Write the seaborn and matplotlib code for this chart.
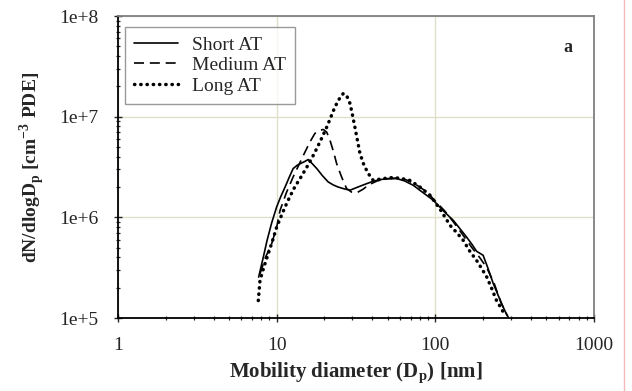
import numpy as np
import pandas as pd
import matplotlib
matplotlib.use("Agg")
import matplotlib.pyplot as plt
import matplotlib.ticker as mticker
from matplotlib.lines import Line2D
import seaborn as sns

# Размер частиц [nm] и концентрация dN/dlogDp для трёх режимов
short_d = [7.7, 8.2, 8.7, 9.3, 10.0, 10.6, 11.3, 12.0, 12.7, 13.5, 14.4, 15.1, 15.8,
           16.8, 17.9, 19.4, 21.1, 22.7, 24.4, 26.6, 29.0, 32.5, 36.9, 40.5, 44.8,
           50.5, 57.0, 64.0, 72.6, 84.0, 97.0, 113.0, 130.0, 143.0, 157.0, 170.0,
           182.0, 200.0, 215.0, 232.0, 250.0, 268.0, 280.0, 288.0]
short_n = [2.55e5, 3.9e5, 5.9e5, 8.8e5, 1.27e6, 1.6e6, 2.0e6, 2.5e6, 3.05e6, 3.3e6,
           3.47e6, 3.6e6, 3.75e6, 3.4e6, 3.05e6, 2.6e6, 2.25e6, 2.1e6, 2.0e6, 1.92e6,
           1.86e6, 2.0e6, 2.16e6, 2.28e6, 2.37e6, 2.42e6, 2.43e6, 2.3e6, 2.08e6,
           1.75e6, 1.48e6, 1.15e6, 9.3e5, 7.7e5, 6.4e5, 5.4e5, 4.6e5, 4.2e5, 3.1e5,
           2.19e5, 1.65e5, 1.28e5, 1.1e5, 1.02e5]

medium_d = [7.85, 8.5, 9.3, 10.0, 10.5, 11.5, 12.7, 13.9, 15.1, 16.2, 17.4, 18.5,
            19.7, 20.7, 21.7, 22.8, 23.9, 25.7, 27.6, 29.7, 31.9, 35.0, 38.0, 43.0,
            50.0, 57.0, 66.0, 76.0, 88.0, 100.0, 115.0, 130.0, 150.0, 170.0, 190.0,
            210.0, 235.0, 260.0, 285.0]
medium_n = [2.75e5, 4.0e5, 5.47e5, 8.0e5, 1.17e6, 1.75e6, 2.52e6, 3.4e6, 4.47e6,
            5.6e6, 6.8e6, 7.3e6, 7.46e6, 7.0e6, 5.8e6, 4.5e6, 3.4e6, 2.5e6, 1.93e6,
            1.78e6, 1.75e6, 1.9e6, 2.1e6, 2.3e6, 2.42e6, 2.45e6, 2.35e6, 2.1e6,
            1.8e6, 1.45e6, 1.15e6, 9.0e5, 6.6e5, 5.0e5, 4.0e5, 3.2e5, 2.2e5, 1.4e5,
            1.05e5]

long_d = [7.66, 7.85, 8.3, 8.85, 9.4, 10.0, 10.6, 11.3, 12.1, 13.0, 14.2, 15.5,
          16.7, 17.9, 19.3, 20.7, 22.0, 23.3, 24.8, 26.3, 27.6, 29.0, 30.0, 31.1,
          33.5, 35.5, 37.8, 40.6, 45.0, 51.8, 60.0, 69.0, 80.0, 92.5, 108.0, 124.0,
          137.0, 150.0, 165.0, 182.0, 196.0, 211.0, 227.0, 243.0, 260.0, 275.0]
long_n = [1.49e5, 2.36e5, 3.2e5, 4.35e5, 5.8e5, 8.0e5, 1.0e6, 1.27e6, 1.6e6, 2.0e6,
          2.5e6, 3.16e6, 3.9e6, 4.83e6, 6.2e6, 7.9e6, 1.0e7, 1.25e7, 1.5e7, 1.7e7,
          1.62e7, 1.35e7, 1.05e7, 7.9e6, 4.3e6, 3.3e6, 2.72e6, 2.33e6, 2.4e6,
          2.48e6, 2.45e6, 2.33e6, 2.0e6, 1.66e6, 1.18e6, 8.3e5, 7.0e5, 5.9e5,
          4.6e5, 3.73e5, 3.1e5, 2.55e5, 1.95e5, 1.49e5, 1.25e5, 1.06e5]

labels = ["Short AT", "Medium AT", "Long AT"]
x_ticks = [1, 10, 100, 1000]
y_ticks = [1e5, 1e6, 1e7, 1e8]

sns.set_style("white")
plt.rcParams['font.family'] = ['Liberation Serif', 'DejaVu Serif']
plt.rcParams['mathtext.fontset'] = 'custom'
plt.rcParams['mathtext.rm'] = 'Liberation Serif'
plt.rcParams['mathtext.bf'] = 'Liberation Serif:bold'

fig = plt.figure(figsize=(6.32, 3.91), dpi=100)
ax = fig.add_axes([118 / 632, 1 - 318 / 391, 476 / 632, 302 / 391])

series = [(short_d, short_n, dict(linestyle='-', linewidth=1.2)),
          (medium_d, medium_n, dict(linestyle=(0, (6, 3.5)), linewidth=1.2)),
          (long_d, long_n, dict(linestyle=(0, (0.1, 1.7)), linewidth=2.5,
                                dash_capstyle='round'))]
for (d, n, st), lab in zip(series, labels):
    df = pd.DataFrame({'d': d, 'n': n})
    sns.lineplot(data=df, x='d', y='n', ax=ax, color='black', sort=False,
                 label=lab, **st)

ax.set_xscale('log')
ax.set_yscale('log')
ax.set_xlim(1, 1000)
ax.set_ylim(1e5, 1e8)
ax.set_xticks(x_ticks)
ax.set_yticks(y_ticks)
ax.xaxis.set_major_formatter(mticker.FuncFormatter(lambda v, p: f"{v:g}"))
ax.yaxis.set_major_formatter(mticker.FuncFormatter(lambda v, p: f"1e+{int(round(np.log10(v)))}"))
ax.xaxis.set_minor_locator(mticker.LogLocator(base=10, subs=np.arange(2, 10)))
ax.yaxis.set_minor_locator(mticker.LogLocator(base=10, subs=np.arange(2, 10)))
ax.xaxis.set_minor_formatter(mticker.NullFormatter())
ax.yaxis.set_minor_formatter(mticker.NullFormatter())

ax.tick_params(which='major', direction='inout', length=6, width=1, labelsize=14,
               bottom=True, left=True, top=False, right=False)
ax.tick_params(axis='y', which='major', pad=11)
ax.tick_params(axis='x', which='major', pad=11)
ax.tick_params(which='minor', direction='inout', length=3.5, width=0.9,
               bottom=True, left=True, top=False, right=False)

ax.grid(True, which='major', color='#e0e0c8', linewidth=1.0)
ax.set_axisbelow(True)
for s in ['left', 'bottom']:
    ax.spines[s].set_color('black')
    ax.spines[s].set_linewidth(1.3)
for s in ['top', 'right']:
    ax.spines[s].set_color('#808080')
    ax.spines[s].set_linewidth(1.3)

ax.set_xlabel(r'Mobility diameter (D$_\mathbf{p}$) [nm]', fontsize=15,
              fontweight='bold', labelpad=5)
ax.set_ylabel(r'dN/dlogD$_\mathbf{p}$ [cm$^\mathbf{-3}$ PDE]', fontsize=14,
              fontweight='bold', labelpad=9)

leg = ax.legend(loc='upper left', bbox_to_anchor=(0.0, 0.985), fontsize=14,
                frameon=True, fancybox=False, edgecolor='#808080',
                handlelength=2.3, borderpad=0.45, labelspacing=0.15,
                handletextpad=0.7, borderaxespad=0.35)
leg.get_frame().set_linewidth(1.0)

ax.text(0.955, 0.895, 'a', transform=ax.transAxes, fontsize=13,
        fontweight='bold', ha='right', va='center')

fig.add_artist(Line2D([623.5 / 632, 623.5 / 632], [0, 1], color='#f4b8b8',
                      linewidth=1.0, transform=fig.transFigure))

fig.savefig('out.png', dpi=100, facecolor='white')
